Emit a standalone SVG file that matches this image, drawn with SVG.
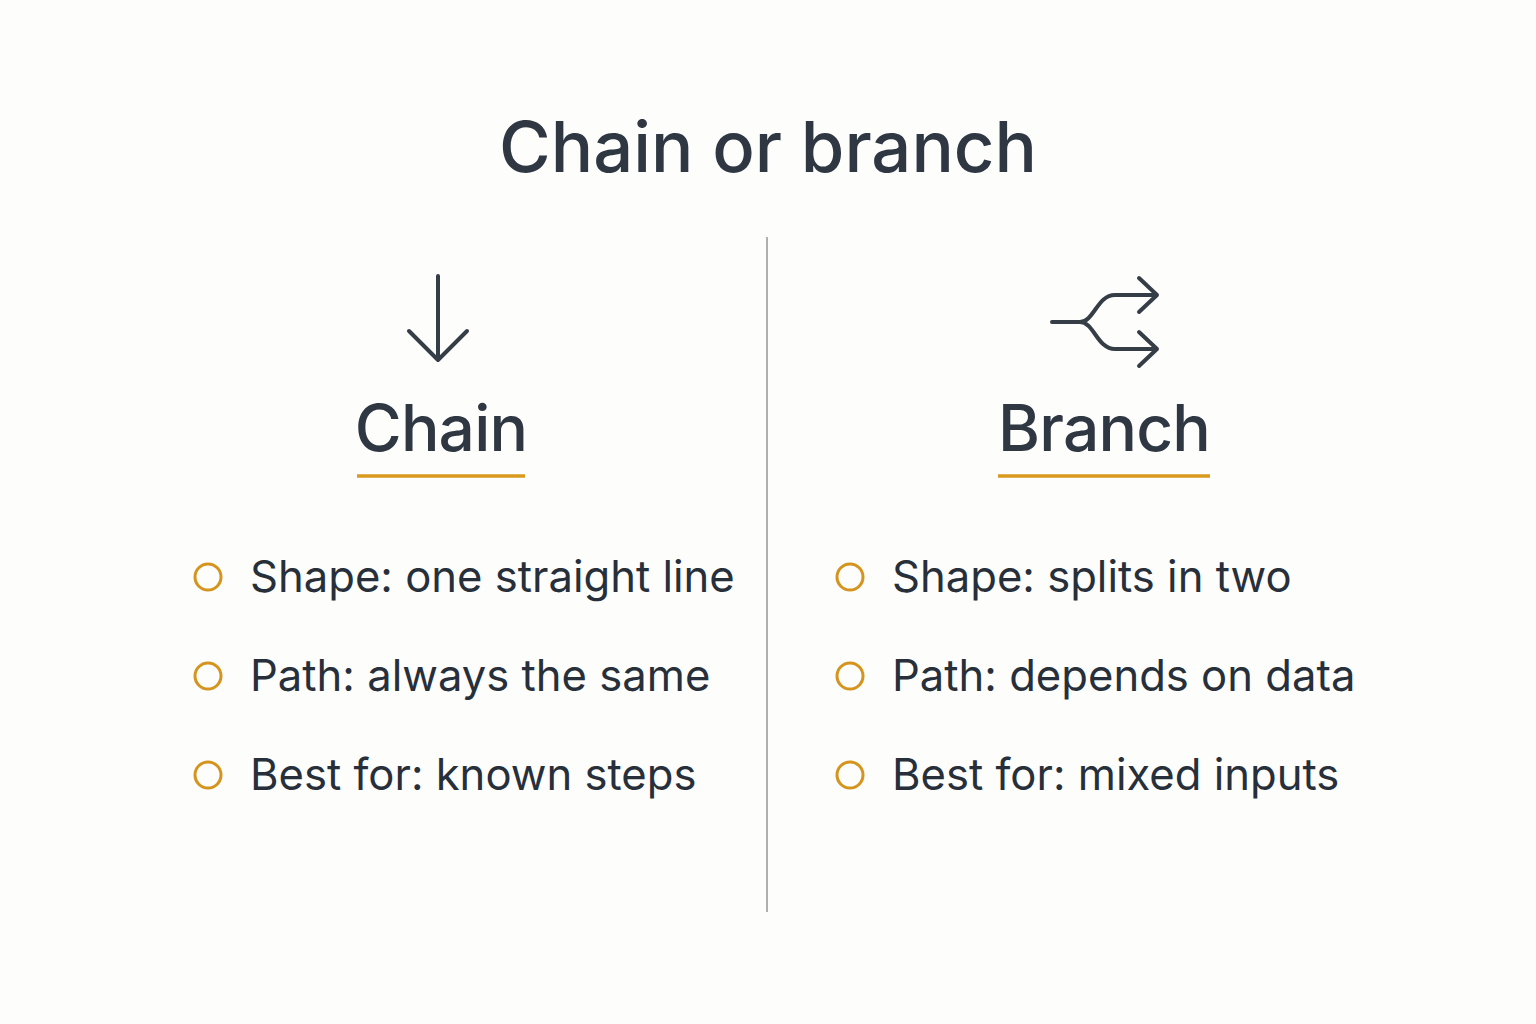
<svg xmlns="http://www.w3.org/2000/svg" width="1536" height="1024" viewBox="0 0 1536 1024">
<style>
.t{font-family:Inter,"Noto Sans","Liberation Sans",sans-serif;fill:#2e3742}
.title{font-size:70.5px;font-weight:500}
.head{font-size:64px;font-weight:500;letter-spacing:-0.8px}
.item{font-size:43.6px;font-weight:400;fill:#27303a}
.bul{fill:none;stroke:#D4941E;stroke-width:3}
.ul{stroke:#D99A1E;stroke-width:3.5}
.icon{fill:none;stroke:#353d47;stroke-width:4;stroke-linecap:round;stroke-linejoin:round}
</style>
<rect width="1536" height="1024" fill="#fdfdfc"/>
<text id="title" class="t title" x="768" y="172" text-anchor="middle">Chain or branch</text>
<g id="connectors">
<line x1="767" y1="237" x2="767" y2="912" stroke="#b0b0b0" stroke-width="2"/>
</g>
<g id="chain">
<path class="icon" d="M438,276 V360 M409,331 L438,360 L467,331"/>
<text class="t head" x="441" y="451" text-anchor="middle">Chain</text>
<line class="ul" x1="357" y1="476" x2="525" y2="476"/>
<circle class="bul" cx="208" cy="577" r="13"/>
<text class="t item" x="250" y="592">Shape: one straight line</text>
<circle class="bul" cx="208" cy="676" r="13"/>
<text class="t item" x="250" y="691">Path: always the same</text>
<circle class="bul" cx="208" cy="775" r="13"/>
<text class="t item" x="250" y="790">Best for: known steps</text>
</g>
<g id="branch">
<path class="icon" d="M1052,322 H1080 C1094,322 1097,295 1115,295 H1157 M1080,322 C1094,322 1097,349 1115,349 H1157 M1139,278 L1157,295 L1139,312 M1139,332 L1157,349 L1139,366"/>
<text class="t head" x="1104" y="451" text-anchor="middle">Branch</text>
<line class="ul" x1="998" y1="476" x2="1210" y2="476"/>
<circle class="bul" cx="850" cy="577" r="13"/>
<text class="t item" x="892" y="592">Shape: splits in two</text>
<circle class="bul" cx="850" cy="676" r="13"/>
<text class="t item" x="892" y="691">Path: depends on data</text>
<circle class="bul" cx="850" cy="775" r="13"/>
<text class="t item" x="892" y="790">Best for: mixed inputs</text>
</g>
</svg>
